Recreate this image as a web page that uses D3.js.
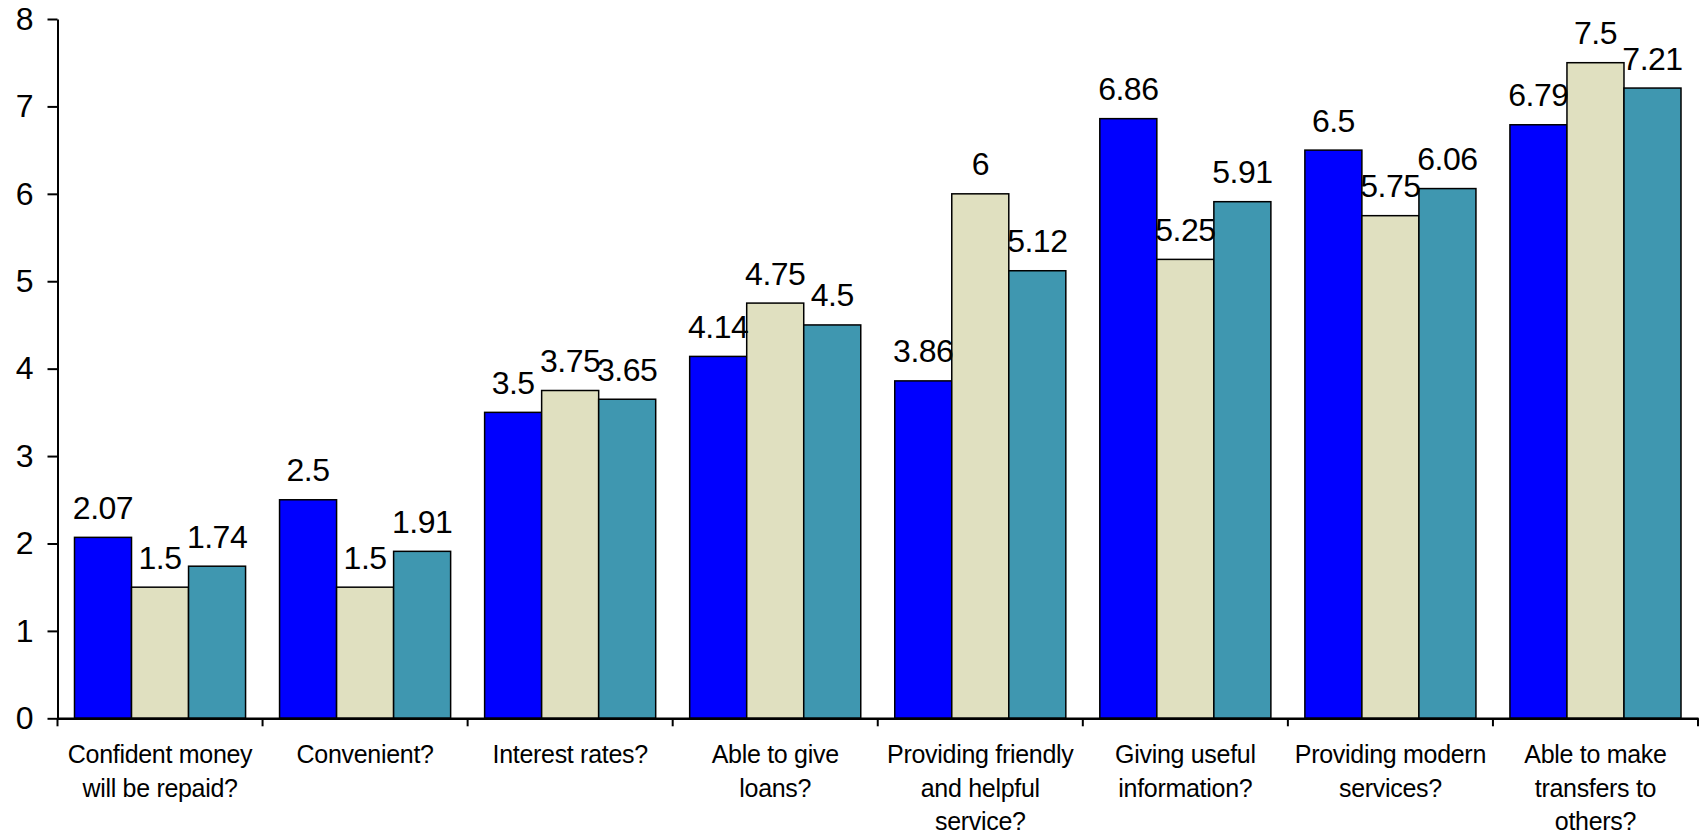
<!DOCTYPE html>
<html>
<head>
<meta charset="utf-8">
<script src="https://cdn.jsdelivr.net/npm/d3@7/dist/d3.min.js"></script>
<style>
  html, body { margin: 0; padding: 0; background: #fff; }
  svg { display: block; font-family: "Liberation Sans", Arial, sans-serif; }
</style>
</head>
<body>
<svg id="chart" width="1702" height="835"></svg>
<script>
// ---- data ----
const categories = [
  ["Confident money", "will be repaid?"],
  ["Convenient?"],
  ["Interest rates?"],
  ["Able to give", "loans?"],
  ["Providing friendly", "and helpful", "service?"],
  ["Giving useful", "information?"],
  ["Providing modern", "services?"],
  ["Able to make", "transfers to", "others?"]
];
const seriesNames = ["Series 1", "Series 2", "Series 3"];
const series1 = [2.07, 2.5, 3.5, 4.14, 3.86, 6.86, 6.5, 6.79];
const series2 = [1.5, 1.5, 3.75, 4.75, 6, 5.25, 5.75, 7.5];
const series3 = [1.74, 1.91, 3.65, 4.5, 5.12, 5.91, 6.06, 7.21];
const yTicks = [0, 1, 2, 3, 4, 5, 6, 7, 8];
const colors = ["#0000FF", "#E0E0C0", "#3F97B0"];

// ---- layout ----
const svg = d3.select("#chart");
const mLeft = 57.5, mRight = 1698, mTop = 19, mBottom = 718.3;
const catIds = categories.map((c, i) => i);
const allSeries = [series1, series2, series3];

const x = d3.scaleBand().domain(catIds).range([mLeft, mRight]).paddingInner(0).paddingOuter(0);
const xs = d3.scaleBand().domain([0, 1, 2]).range([0, x.bandwidth()]).paddingInner(0).paddingOuter(0.298);
const y = d3.scaleLinear().domain([0, 8]).range([mBottom, mTop]);

// bars
const groups = svg.append("g").selectAll("g").data(catIds).join("g")
  .attr("transform", d => `translate(${x(d)},0)`);

groups.selectAll("rect")
  .data(ci => allSeries.map((s, si) => ({si, v: s[ci]})))
  .join("rect")
  .attr("x", d => xs(d.si))
  .attr("width", xs.bandwidth())
  .attr("y", d => y(d.v))
  .attr("height", d => y(0) - y(d.v))
  .attr("fill", d => colors[d.si])
  .attr("stroke", "#000")
  .attr("stroke-width", 1.5);

// value labels
groups.selectAll("text.val")
  .data(ci => allSeries.map((s, si) => ({si, v: s[ci]})))
  .join("text")
  .attr("class", "val")
  .attr("x", d => xs(d.si) + xs.bandwidth() / 2)
  .attr("y", d => y(d.v) - 18.5)
  .attr("text-anchor", "middle")
  .attr("font-size", 32)
  .attr("letter-spacing", -0.5)
  .attr("fill", "#000")
  .text(d => String(d.v));

// y axis
const yAxis = svg.append("g")
  .attr("transform", `translate(${mLeft},0)`)
  .call(d3.axisLeft(y).tickValues(yTicks).tickFormat(d3.format("d")).tickSize(10).tickSizeOuter(0).tickPadding(14));
yAxis.selectAll("text").attr("font-size", 32).attr("fill", "#000").attr("font-family", "Liberation Sans, Arial, sans-serif");
yAxis.selectAll("line").attr("stroke", "#000").attr("stroke-width", 2);
yAxis.select(".domain").attr("stroke", "#000").attr("stroke-width", 2);

// x axis
const xAxis = svg.append("g")
  .attr("transform", `translate(0,${y(0)})`)
  .call(d3.axisBottom(x).tickSize(0).tickSizeOuter(0).tickFormat(""));
xAxis.select(".domain").attr("stroke", "#000").attr("stroke-width", 2.5);
xAxis.selectAll(".tick").remove();

const bounds = catIds.map(d => x(d)).concat([x(catIds[catIds.length - 1]) + x.bandwidth()]);
xAxis.selectAll("line.bt").data(bounds).join("line")
  .attr("class", "bt")
  .attr("x1", d => d).attr("x2", d => d)
  .attr("y1", 0).attr("y2", 8)
  .attr("stroke", "#000").attr("stroke-width", 2);

// category labels
const catLabels = svg.append("g").selectAll("text").data(catIds).join("text")
  .attr("text-anchor", "middle")
  .attr("font-size", 25)
  .attr("letter-spacing", -0.3)
  .attr("fill", "#000")
  .attr("transform", d => `translate(${x(d) + x.bandwidth() / 2},763)`);
catLabels.selectAll("tspan").data(d => categories[d]).join("tspan")
  .attr("x", 0)
  .attr("y", (t, i) => i * 33.5)
  .text(t => t);
</script>
</body>
</html>
